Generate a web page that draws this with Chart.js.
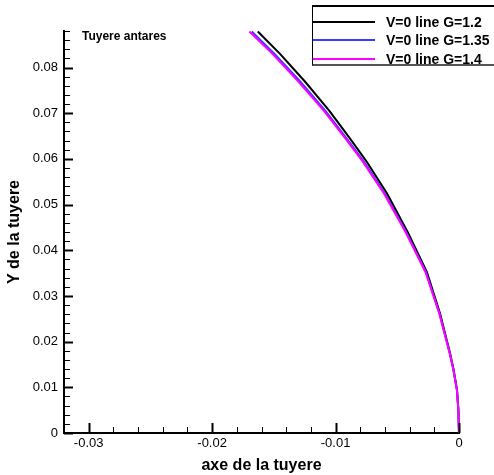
<!DOCTYPE html>
<html>
<head>
<meta charset="utf-8">
<script src="https://cdn.jsdelivr.net/npm/chart.js@4.4.0/dist/chart.umd.min.js"></script>
<style>
    body { margin: 0; background: #fff; overflow: hidden; }
    #wrap { position: relative; width: 494px; height: 475px; overflow: hidden; }
    #note { position: absolute; left: 82px; top: 29px; font: bold 12px "Liberation Sans", Arial, sans-serif; color: #000; }
    #legend { position: absolute; left: 312px; top: 5px; width: 200px; height: 57px;
              border: 1px solid #000; border-top-width: 2px; border-bottom: 2px solid #555; background: #fff; }
    .row { position: absolute; left: 0; height: 16px; font: bold 14px "Liberation Sans", Arial, sans-serif; color: #000; }
    .row span.swatch { position: absolute; left: 0; top: 7px; width: 62px; height: 2px; }
    .row span.txt { position: absolute; left: 73px; top: 0; line-height: 16px; white-space: nowrap; }
</style>
</head>
<body>
<div id="wrap">
    <canvas id="chart" width="494" height="475"></canvas>
    <div id="note">Tuyere antares</div>
    <div id="legend"></div>
</div>
<script>
// curve points (y is shared by the three curves)
const yValues  = [0, 0.005, 0.0094, 0.014, 0.0175, 0.0262, 0.0352, 0.0439, 0.0525, 0.0595, 0.0645, 0.0705, 0.077, 0.083, 0.0879];
const xG12     = [0, -0.00005, -0.00016, -0.00045, -0.00073, -0.00154, -0.0026, -0.00414, -0.00584, -0.0075, -0.00884, -0.0105, -0.0125, -0.0145, -0.0163];
const xG135    = [0, -0.00005, -0.00016, -0.00046, -0.00075, -0.00159, -0.00268, -0.00426, -0.00602, -0.00773, -0.00911, -0.01082, -0.01288, -0.01494, -0.01679];
const xG14     = [0, -0.00005, -0.00017, -0.00047, -0.00076, -0.0016, -0.00271, -0.00431, -0.00609, -0.00782, -0.00921, -0.01094, -0.01303, -0.01511, -0.01698];

const labels = ['V=0 line G=1.2', 'V=0 line G=1.35', 'V=0 line G=1.4'];
const colors = ['#000000', '#3b3bff', '#ff00ff'];

const xTicks = [-0.03, -0.02, -0.01, 0];
const yTicks = [0, 0.01, 0.02, 0.03, 0.04, 0.05, 0.06, 0.07, 0.08];
const xRange = [-0.032, 0];
const yRange = [0, 0.088];
const minorStep = 0.002;

const toPoints = (xs, ys) => xs.map((x, i) => ({ x: x, y: ys[i] }));

const fmt = v => parseFloat(v.toFixed(3)).toString();

// inward tick marks, major every 0.01 and minor every 0.002
const innerTicks = {
    id: 'innerTicks',
    afterDraw: (chart) => {
        const ctx = chart.ctx;
        const xs = chart.scales.x;
        const ys = chart.scales.y;
        const area = chart.chartArea;
        ctx.save();
        ctx.strokeStyle = '#000';

        const nx = Math.round((xRange[1] - xRange[0]) / minorStep);
        for (let k = 0; k <= nx; k++) {
            const v = xRange[1] - k * minorStep;
            if (v < xRange[0] - 1e-9) break;
            const major = k % 5 === 0;
            const px = Math.round(xs.getPixelForValue(v)) + 0.5;
            ctx.lineWidth = major ? 2 : 1;
            ctx.beginPath();
            ctx.moveTo(px, area.bottom);
            ctx.lineTo(px, area.bottom - (major ? 10 : 6));
            ctx.stroke();
        }

        const ny = Math.round((yRange[1] - yRange[0]) / minorStep);
        for (let k = 0; k <= ny; k++) {
            const v = yRange[0] + k * minorStep;
            const major = k % 5 === 0;
            const py = Math.round(ys.getPixelForValue(v)) + 0.5;
            ctx.lineWidth = major ? 2 : 1;
            ctx.beginPath();
            ctx.moveTo(area.left, py);
            ctx.lineTo(area.left + (major ? 9 : 6), py);
            ctx.stroke();
        }
        ctx.restore();
    }
};

const tickFont = { family: '"Liberation Sans", Arial, sans-serif', size: 13 };
const titleFont = { family: '"Liberation Sans", Arial, sans-serif', size: 16, weight: 'bold' };

const datasets = [xG12, xG135, xG14].map((xs, i) => ({
    label: labels[i],
    data: toPoints(xs, yValues),
    borderColor: colors[i],
    backgroundColor: colors[i],
    borderWidth: 2,
    showLine: true,
    pointRadius: 0,
    tension: 0,
    clip: false,
    order: 2 - i
}));

const chart = new Chart(document.getElementById('chart').getContext('2d'), {
    type: 'scatter',
    data: { datasets: datasets },
    options: {
        responsive: false,
        animation: false,
        layout: { padding: { left: 0, top: 31, right: 35, bottom: 0 } },
        plugins: { legend: { display: false }, tooltip: { enabled: false } },
        scales: {
            x: {
                type: 'linear',
                min: xRange[0],
                max: xRange[1],
                afterBuildTicks: s => { s.ticks = xTicks.map(v => ({ value: v })); },
                afterFit: s => { s.height = 42; },
                grid: { display: false, drawTicks: false },
                border: { display: true, color: '#000', width: 2 },
                ticks: { color: '#000', font: tickFont, padding: 3, maxRotation: 0, callback: v => fmt(v) },
                title: { display: true, text: 'axe de la tuyere', color: '#000', font: titleFont, padding: { top: 2, bottom: 0 } }
            },
            y: {
                type: 'linear',
                min: yRange[0],
                max: yRange[1],
                afterBuildTicks: s => { s.ticks = yTicks.map(v => ({ value: v })); },
                afterFit: s => { s.width = 64; },
                grid: { display: false, drawTicks: false },
                border: { display: true, color: '#000', width: 2 },
                ticks: { color: '#000', font: tickFont, padding: 6, callback: v => fmt(v) },
                title: { display: true, text: 'Y de la tuyere', color: '#000', font: titleFont, padding: { top: 5, bottom: 0 } }
            }
        }
    },
    plugins: [innerTicks]
});

// legend box, built from the datasets
const legendEl = document.getElementById('legend');
const rowTops = [7, 25, 44];
chart.data.datasets.forEach((ds, i) => {
    const row = document.createElement('div');
    row.className = 'row';
    row.style.top = rowTops[i] + 'px';
    row.innerHTML = '<span class="swatch" style="background:' + ds.borderColor + '"></span><span class="txt">' + ds.label + '</span>';
    legendEl.appendChild(row);
});
</script>
</body>
</html>
